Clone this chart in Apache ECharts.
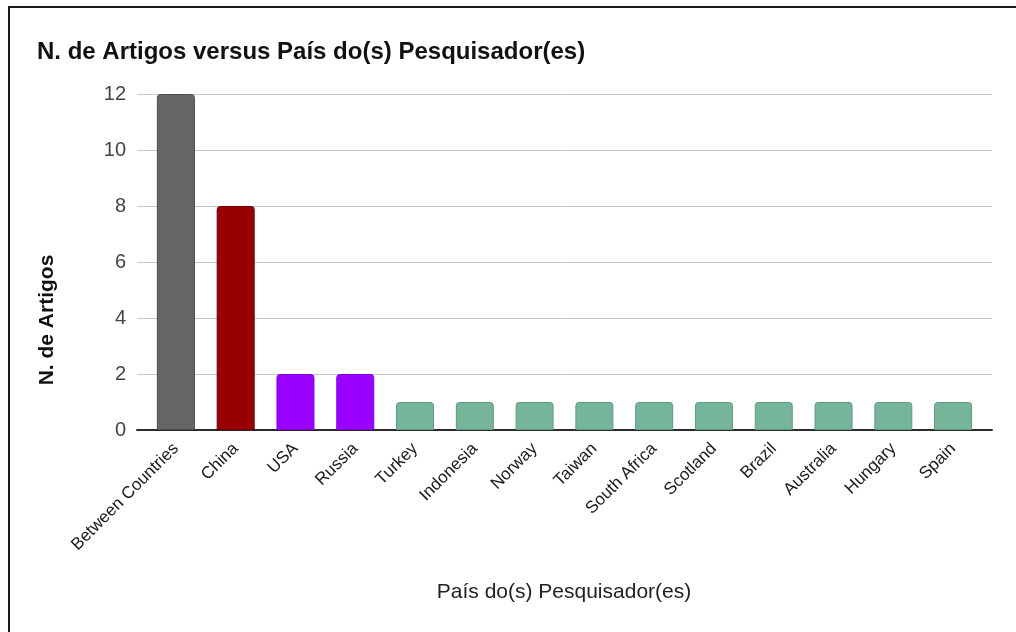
<!DOCTYPE html>
<html>
<head>
<meta charset="utf-8">
<script src="https://cdn.jsdelivr.net/npm/echarts@6/dist/echarts.min.js"></script>
<style>
  html, body { margin: 0; padding: 0; background: #fff; }
  #frame { position: absolute; left: 8px; top: 6px; width: 1010px; height: 630px;
           border-left: 2px solid #1a1a1a; border-top: 2px solid #1a1a1a; box-sizing: border-box; }
  #chart { position: absolute; left: 0; top: 0; width: 1016px; height: 632px; }
</style>
</head>
<body>
<div id="frame"></div>
<div id="chart"></div>
<script>
const titleText = 'N. de Artigos versus País do(s) Pesquisador(es)';
const xAxisTitle = 'País do(s) Pesquisador(es)';
const yAxisTitle = 'N. de Artigos';
const categories = ['Between Countries', 'China', 'USA', 'Russia', 'Turkey', 'Indonesia', 'Norway',
  'Taiwan', 'South Africa', 'Scotland', 'Brazil', 'Australia', 'Hungary', 'Spain'];
const articles = [12, 8, 2, 2, 1, 1, 1, 1, 1, 1, 1, 1, 1, 1];
const yTicks = [0, 2, 4, 6, 8, 10, 12];

// styles (kept apart from data)
const fillColors = ['#666666', '#990000', '#9900ff', '#9900ff', '#77b59a', '#77b59a', '#77b59a',
  '#77b59a', '#77b59a', '#77b59a', '#77b59a', '#77b59a', '#77b59a', '#77b59a'];
const edgeColors = ['#4a4a4a', '#6e0000', '#8400dd', '#8400dd', '#5f9a80', '#5f9a80', '#5f9a80',
  '#5f9a80', '#5f9a80', '#5f9a80', '#5f9a80', '#5f9a80', '#5f9a80', '#5f9a80'];

const FONT = "'Liberation Sans', Arial, sans-serif";
const chart = echarts.init(document.getElementById('chart'), null, { renderer: 'canvas' });

const option = {
  backgroundColor: 'transparent',
  animation: false,
  title: {
    text: titleText, left: 37, top: 40, padding: 0,
    textStyle: { fontFamily: FONT, fontSize: 24, fontWeight: 'bold', color: '#111' }
  },
  grid: [
    { left: 137, right: 24, top: 94, bottom: 202 },
    { left: 146, right: 33, top: 94, bottom: 202 }
  ],
  xAxis: [
    { gridIndex: 0, type: 'value', min: 0, max: 1, axisLabel: { show: false }, axisTick: { show: false },
      splitLine: { show: false }, axisLine: { show: true, onZero: true, lineStyle: { color: '#2a2a2a', width: 2 } } },
    { gridIndex: 1, type: 'category', data: categories, axisLine: { show: false }, axisTick: { show: false },
      axisLabel: { rotate: 45, interval: 0, margin: 16, fontFamily: FONT, fontSize: 17, color: '#1a1a1a' } }
  ],
  yAxis: [
    { gridIndex: 0, type: 'value', min: yTicks[0], max: yTicks[yTicks.length - 1], interval: yTicks[1] - yTicks[0],
      axisLine: { show: false }, axisTick: { show: false },
      axisLabel: { fontFamily: FONT, fontSize: 20, color: '#444', margin: 11 },
      splitLine: { show: true, lineStyle: { color: '#c8c8c8', width: 1 } } },
    { gridIndex: 1, type: 'value', min: yTicks[0], max: yTicks[yTicks.length - 1], show: false }
  ],
  graphic: [
    { type: 'text', x: 564, y: 592, style: { text: xAxisTitle, align: 'center', verticalAlign: 'middle',
      font: "21px 'Liberation Sans', Arial, sans-serif", fill: '#222' } },
    { type: 'text', x: 47, y: 320, rotation: Math.PI / 2, style: { text: yAxisTitle, align: 'center', verticalAlign: 'middle',
      font: "bold 21px 'Liberation Sans', Arial, sans-serif", fill: '#111' } }
  ],
  series: [{
    type: 'bar', xAxisIndex: 1, yAxisIndex: 1, barWidth: 38,
    data: articles.map((v, i) => ({ value: v, itemStyle: { color: fillColors[i], borderColor: edgeColors[i] } })),
    itemStyle: { borderWidth: 1, borderRadius: [3, 3, 0, 0] }
  }]
};
chart.setOption(option);
</script>
</body>
</html>
